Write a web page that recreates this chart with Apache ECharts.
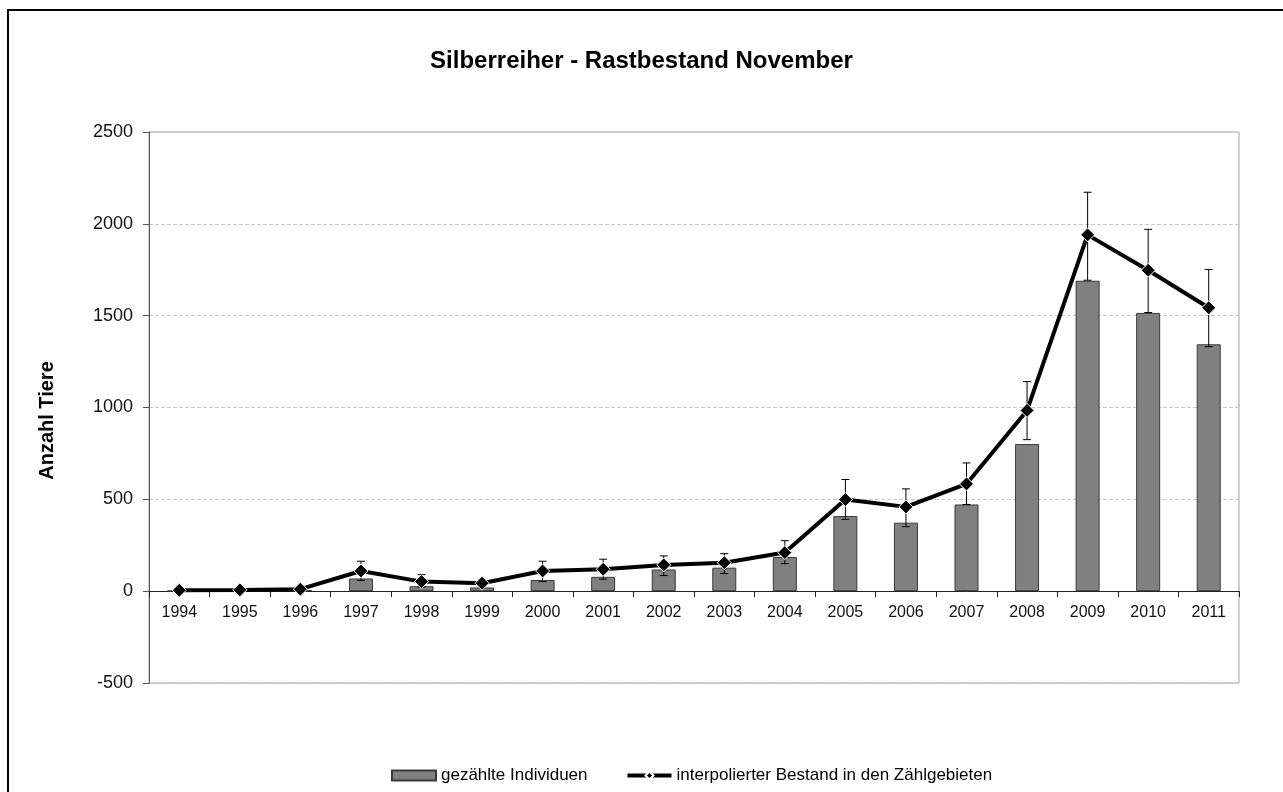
<!DOCTYPE html>
<html>
<head>
<meta charset="utf-8">
<script src="https://cdn.jsdelivr.net/npm/echarts@6/dist/echarts.min.js"></script>
<style>
  html, body { margin: 0; padding: 0; background: #fff; }
  #main { width: 1283px; height: 792px; }
</style>
</head>
<body>
<div id="main"></div>
<script>
// Daten
var years = ["1994", "1995", "1996", "1997", "1998", "1999", "2000", "2001", "2002",
  "2003", "2004", "2005", "2006", "2007", "2008", "2009", "2010", "2011"];
var counted = [2, 3, 5, 69, 27, 20, 61, 78, 118, 128, 186, 409, 373, 472, 801, 1690, 1515, 1344];
var interpolated = [5, 7, 11, 110, 52, 43, 110, 119, 143, 155, 210, 499, 459, 584, 984, 1940, 1747, 1543];
var errUpper = [5, 7, 11, 163, 90, 62, 163, 174, 192, 204, 275, 608, 557, 698, 1141, 2172, 1970, 1751];
var errLower = [5, 7, 11, 58, 23, 25, 52, 65, 85, 96, 150, 391, 351, 472, 825, 1693, 1517, 1331];

var errData = [];
for (var i = 0; i < years.length; i++) {
  errData.push([i, errLower[i], errUpper[i]]);
}

var myChart = echarts.init(document.getElementById("main"));
var option = {
  backgroundColor: "#ffffff",
  textStyle: { fontFamily: "Liberation Sans, Arial, sans-serif" },
  animation: false,
  title: {
    text: "Silberreiher - Rastbestand November",
    left: "center",
    top: 44,
    textStyle: { fontSize: 24, fontWeight: "bold", color: "#000" }
  },
  graphic: [
    {
      type: "rect",
      shape: { x: 8, y: 10, width: 1300, height: 800 },
      style: { fill: "none", stroke: "#000", lineWidth: 2 },
      silent: true
    }
  ],
  legend: {
    left: 386,
    top: 762,
    itemWidth: 44,
    itemHeight: 10,
    itemGap: 38,
    textStyle: { fontSize: 17, color: "#000" },
    data: [
      { name: "gezählte Individuen", icon: "rect" },
      { name: "interpolierter Bestand in den Zählgebieten", lineStyle: { width: 4 } }
    ]
  },
  grid: {
    left: 149,
    right: 44,
    top: 132,
    bottom: 109,
    show: true,
    borderColor: "#a0a0a0",
    borderWidth: 1
  },
  xAxis: {
    type: "category",
    data: years,
    axisLine: { onZero: true, lineStyle: { color: "#222", width: 1 } },
    axisTick: { show: true, length: 6, lineStyle: { color: "#222" } },
    axisLabel: { fontSize: 16, color: "#111", margin: -78 }
  },
  yAxis: {
    type: "value",
    min: -500,
    max: 2500,
    interval: 500,
    name: "Anzahl Tiere",
    nameLocation: "middle",
    nameGap: 92,
    nameTextStyle: { fontSize: 20, fontWeight: "bold", color: "#000", padding: [0, 26, 0, 0] },
    axisLine: { show: true, lineStyle: { color: "#555" } },
    axisTick: { show: true, length: 6, lineStyle: { color: "#555" } },
    axisLabel: { fontSize: 18, color: "#111", margin: 16, formatter: function (v) { return String(v); } },
    splitLine: { lineStyle: { type: "dashed", color: "#c8c8c8" } }
  },
  series: [
    {
      name: "gezählte Individuen",
      type: "bar",
      barWidth: 24,
      data: counted,
      itemStyle: { color: "#808080", borderColor: "#3a3a3a", borderWidth: 1 },
      z: 2
    },
    {
      name: "Fehler",
      type: "custom",
      data: errData,
      z: 3,
      renderItem: function (params, api) {
        var x = api.value(0);
        var lo = api.coord([x, api.value(1)]);
        var hi = api.coord([x, api.value(2)]);
        var cap = 4;
        var st = { stroke: "#000", lineWidth: 1 };
        return {
          type: "group",
          children: [
            { type: "line", shape: { x1: hi[0], y1: hi[1], x2: lo[0], y2: lo[1] }, style: st },
            { type: "line", shape: { x1: hi[0] - cap, y1: hi[1], x2: hi[0] + cap, y2: hi[1] }, style: st },
            { type: "line", shape: { x1: lo[0] - cap, y1: lo[1], x2: lo[0] + cap, y2: lo[1] }, style: st }
          ]
        };
      }
    },
    {
      name: "interpolierter Bestand in den Zählgebieten",
      type: "line",
      data: interpolated,
      symbol: "diamond",
      symbolSize: 14,
      lineStyle: { color: "#000", width: 4 },
      itemStyle: { color: "#000", borderColor: "#fff", borderWidth: 1 },
      z: 4
    }
  ]
};
myChart.setOption(option);
</script>
</body>
</html>
